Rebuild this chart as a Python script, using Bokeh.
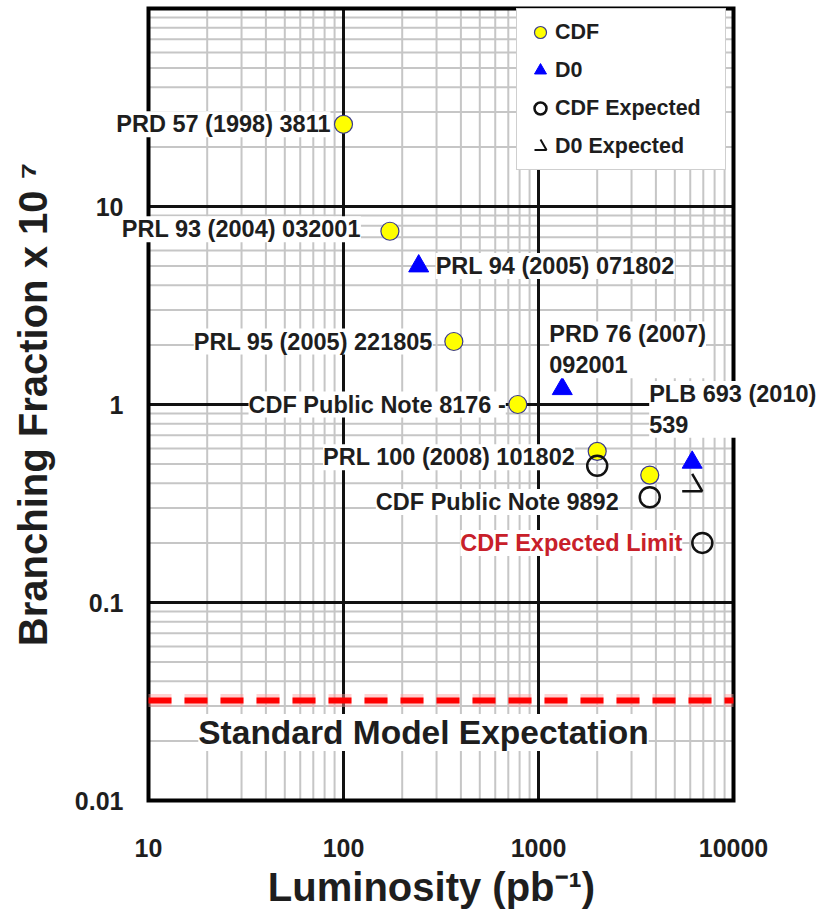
import math

from bokeh.plotting import figure
from bokeh.models import Label, Legend, LegendItem, Range1d
from bokeh.embed import file_html
from bokeh.resources import INLINE

# ---- data: integrated luminosity (pb^-1) vs branching fraction (x 10^7) ----
cdf_lumi = [100, 173, 368, 783, 2000, 3720]
cdf_bf = [26.0, 7.5, 2.08, 1.0, 0.58, 0.44]
cdf_refs = ["PRD 57 (1998) 3811", "PRL 93 (2004) 032001", "PRL 95 (2005) 221805",
            "CDF Public Note 8176 -", "PRL 100 (2008) 101802", "CDF Public Note 9892"]

d0_lumi = [243, 1324, 6140]
d0_bf = [5.0, 1.2, 0.51]
d0_refs = ["PRL 94 (2005) 071802", "PRD 76 (2007)\n092001", "PLB 693 (2010)\n539"]

cdf_exp_lumi = [2000, 3720, 6920]
cdf_exp_bf = [0.49, 0.34, 0.20]
cdf_exp_ref = "CDF Expected Limit"

d0_exp_lumi = [6140]
d0_exp_bf = [0.39]

sm_expectation = 0.032
sm_text = "Standard Model Expectation"

x_ticks = [10, 100, 1000, 10000]
x_tick_labels = ["10", "100", "1000", "10000"]
y_ticks = [0.01, 0.1, 1, 10]
y_tick_labels = ["0.01", "0.1", "1", "10"]
x_title = "Luminosity (pb\u207b\u00b9)"
y_title = "Branching Fraction x 10 \u2077"

# ---- page geometry: the frame fills the canvas, the log box sits inside it ----
W, H = 819, 911
BOX_L, BOX_R, BOX_T, BOX_B = 148, 733, 8, 800
X_LO, X_HI = 10, 10000
Y_LO, Y_HI = 0.01, 100
x_dec = (BOX_R - BOX_L) / math.log10(X_HI / X_LO)
y_dec = (BOX_B - BOX_T) / math.log10(Y_HI / Y_LO)


def x_at(px):
    return X_LO * 10 ** ((px - BOX_L) / x_dec)


def y_at(py):
    return Y_LO * 10 ** ((BOX_B - py) / y_dec)


FONT = "Liberation Sans"
TXT = "#1e1e1e"

p = figure(width=W, height=H, x_axis_type="log", y_axis_type="log",
           x_range=Range1d(x_at(0), x_at(W)), y_range=Range1d(y_at(H), y_at(0)),
           x_axis_location=None, y_axis_location=None,
           output_backend="svg", toolbar_location=None, min_border=0)
p.outline_line_color = None
p.grid.visible = False
p.background_fill_color = "white"
p.border_fill_color = "white"

# ---- grid: 2..9 minor lines per decade, decades in black ----
x_minor = [k * 10 ** e for e in range(1, 4) for k in range(2, 10)]
y_minor = [k * 10.0 ** e for e in range(-2, 2) for k in range(2, 10)]
x_major = x_ticks[1:-1]
y_major = y_ticks[1:]

p.segment(x0=x_minor, y0=[Y_LO] * len(x_minor), x1=x_minor, y1=[Y_HI] * len(x_minor),
          line_color="#c6c6c6", line_width=2)
p.segment(x0=[X_LO] * len(y_minor), y0=y_minor, x1=[X_HI] * len(y_minor), y1=y_minor,
          line_color="#c6c6c6", line_width=2)
p.segment(x0=x_major, y0=[Y_LO] * len(x_major), x1=x_major, y1=[Y_HI] * len(x_major),
          line_color="#111111", line_width=3)
p.segment(x0=[X_LO] * len(y_major), y0=y_major, x1=[X_HI] * len(y_major), y1=y_major,
          line_color="#111111", line_width=3)
p.quad(left=[X_LO], right=[X_HI], bottom=[Y_LO], top=[Y_HI], fill_color=None,
       line_color="#000000", line_width=4, line_join="miter")

# ---- Standard Model expectation: soft halo under a dashed red line ----
p.segment(x0=[X_LO], y0=[sm_expectation], x1=[X_HI], y1=[sm_expectation],
          line_color="#ff9a9a", line_alpha=0.45, line_width=13, line_dash="23 13")
p.segment(x0=[X_LO], y0=[sm_expectation], x1=[X_HI], y1=[sm_expectation],
          line_color="#ff0000", line_width=6, line_dash="23 13")

# ---- measurements and expected limits ----
cdf = p.scatter(cdf_lumi, cdf_bf, marker="circle", size=18, fill_color="#ffff00",
                line_color="#3a3a8c", line_width=1.2)
d0 = p.scatter(d0_lumi, d0_bf, marker="triangle", size=20, fill_color="#0000ff",
               line_color="#0000ff")
cdf_exp = p.scatter(cdf_exp_lumi, cdf_exp_bf, marker="circle", size=20,
                    fill_color=None, line_color="#111111", line_width=2.5)
# open triangle drawn as base + right side only (the dash gap hides the left side)
d0_exp = p.scatter(d0_exp_lumi, d0_exp_bf, marker="triangle", size=20,
                   fill_color=None, line_color="#111111", line_width=2.5,
                   line_dash="40 20")
# same symbol at legend-key size (keys are drawn at 0.4 x glyph box)
d0_exp_key = p.scatter(d0_exp_lumi, d0_exp_bf, marker="triangle", size=12,
                       fill_color=None, line_color="#111111", line_width=2,
                       line_dash="24 12", visible=False)


def text(x, y, s, dx=0, dy=0, align="left", color=TXT, size="23.5px",
         angle=0.0, bg="white"):
    p.add_layout(Label(x=x, y=y, text=s, x_offset=dx, y_offset=dy, angle=angle,
                       text_align=align, text_baseline="middle",
                       text_font=FONT, text_font_style="bold",
                       text_font_size=size, text_color=color,
                       text_line_height=1.18, background_fill_color=bg))


cdf_offsets = [(-13, 0), (-29, 2), (-21, 0), (-12, 0), (-22, -6), (-31, -27)]
for x, y, s, (dx, dy) in zip(cdf_lumi, cdf_bf, cdf_refs, cdf_offsets):
    text(x, y, s, dx, dy, "right")

d0_offsets = [(17, 0), (-13, 39), (-43, 53)]
for x, y, s, (dx, dy) in zip(d0_lumi, d0_bf, d0_refs, d0_offsets):
    text(x, y, s, dx, dy, "left")

text(cdf_exp_lumi[-1], cdf_exp_bf[-1], cdf_exp_ref, -20, 0, "right", color="#c8202a")

text(x_at(423), sm_expectation, sm_text, 0, -32, "center", size="33.5px")

# ---- tick labels and axis titles ----
for t, s in zip(y_ticks, y_tick_labels):
    text(X_LO, t, s, -25, 0, "right", size="25px", bg=None)
for t, s in zip(x_ticks, x_tick_labels):
    text(t, Y_LO, s, 0, -47, "center", size="25px", bg=None)
text(x_at(431), Y_LO, x_title, 0, -86, "center", size="40px", bg=None)
text(x_at(32), y_at(404), y_title, 0, 0, "center", size="40px",
     angle=math.pi / 2, bg=None)

# ---- legend ----
legend = Legend(items=[LegendItem(label="CDF", renderers=[cdf]),
                       LegendItem(label="D0", renderers=[d0]),
                       LegendItem(label="CDF Expected", renderers=[cdf_exp]),
                       LegendItem(label="D0 Expected", renderers=[d0_exp_key])],
                location=(516, H - 170), padding=8, spacing=8, margin=0,
                glyph_width=30, glyph_height=30, label_height=30,
                label_standoff=0, label_width=162,
                label_text_font=FONT, label_text_font_style="bold",
                label_text_font_size="21.5px", label_text_color=TXT,
                border_line_color="#a0a0a0", border_line_width=1,
                background_fill_color="white", background_fill_alpha=1)
p.add_layout(legend)

open("out.html", "w").write(file_html(p, INLINE))
